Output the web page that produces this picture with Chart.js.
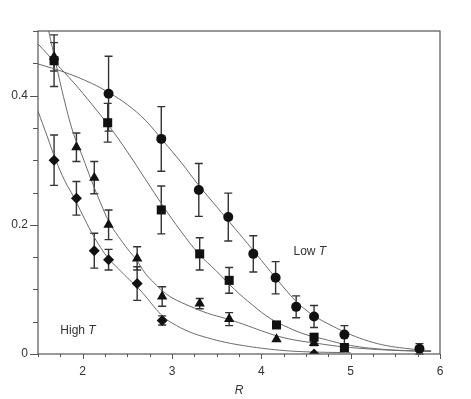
<!DOCTYPE html>
<html lang="en">
  <head>
    <meta charset="UTF-8" />
    <title>R plot</title>
    <script src="https://cdn.jsdelivr.net/npm/chart.js@4.4.0/dist/chart.umd.min.js"></script>
  </head>
  <body style="margin: 0; background: #fff">
    <canvas id="myChart" width="471" height="399"></canvas>
    <script>
      let circleR = [2.29, 2.88, 3.30, 3.63, 3.91, 4.16, 4.39, 4.59, 4.93, 5.77];
      let circleY = [0.403, 0.333, 0.254, 0.212, 0.155, 0.118, 0.073, 0.058, 0.030, 0.008];
      let circleErr = [0.058, 0.050, 0.041, 0.037, 0.028, 0.025, 0.017, 0.017, 0.014, 0.008];

      let squareR = [1.68, 2.28, 2.88, 3.31, 3.64, 4.17, 4.59, 4.93];
      let squareY = [0.454, 0.358, 0.223, 0.155, 0.114, 0.045, 0.026, 0.010];
      let squareErr = [0.040, 0.030, 0.037, 0.025, 0.020, 0, 0, 0];

      let triR = [1.68, 1.93, 2.13, 2.29, 2.61, 2.89, 3.31, 3.64, 4.17, 4.59];
      let triY = [0.460, 0.320, 0.273, 0.200, 0.148, 0.089, 0.078, 0.054, 0.023, 0.017];
      let triErr = [0.022, 0.022, 0.025, 0.023, 0.018, 0.015, 0.008, 0.010, 0, 0.004];

      let diamondR = [1.68, 1.93, 2.13, 2.29, 2.61, 2.89, 4.59];
      let diamondY = [0.300, 0.241, 0.160, 0.146, 0.109, 0.052, 0.0];
      let diamondErr = [0.039, 0.026, 0.027, 0.016, 0.026, 0.007, 0];

      // fitted curves
      let circleFitR = [1.5, 1.8, 2.1, 2.3, 2.5, 2.7, 2.9, 3.1, 3.3, 3.5, 3.7, 3.9, 4.1, 4.3, 4.4, 4.5, 4.6, 4.8, 5.0, 5.2, 5.4, 5.6, 5.8, 5.9];
      let circleFitY = [0.449, 0.436, 0.419, 0.404, 0.386, 0.362, 0.330, 0.297, 0.261, 0.228, 0.195, 0.162, 0.128, 0.095, 0.080, 0.068, 0.058, 0.043, 0.030, 0.020, 0.013, 0.009, 0.006, 0.005];

      let squareFitR = [1.5, 1.7, 1.9, 2.1, 2.3, 2.5, 2.7, 2.9, 3.1, 3.3, 3.5, 3.7, 3.9, 4.1, 4.3, 4.5, 4.7, 4.9, 5.1, 5.3, 5.5, 5.7, 5.9];
      let squareFitY = [0.480, 0.450, 0.420, 0.387, 0.352, 0.313, 0.271, 0.229, 0.190, 0.155, 0.128, 0.100, 0.076, 0.055, 0.041, 0.030, 0.023, 0.016, 0.011, 0.008, 0.006, 0.005, 0.004];

      let triFitR = [1.62, 1.7, 1.8, 1.9, 2.0, 2.1, 2.2, 2.3, 2.4, 2.5, 2.6, 2.7, 2.8, 2.9, 3.0, 3.2, 3.4, 3.6, 3.8, 4.0, 4.2, 4.4, 4.6, 4.8, 5.0, 5.3, 5.6, 5.9];
      let triFitY = [0.500, 0.450, 0.390, 0.340, 0.305, 0.268, 0.234, 0.203, 0.182, 0.163, 0.146, 0.125, 0.110, 0.097, 0.087, 0.074, 0.063, 0.055, 0.046, 0.036, 0.027, 0.021, 0.017, 0.013, 0.010, 0.007, 0.005, 0.004];

      let diamondFitR = [1.5, 1.6, 1.7, 1.8, 1.9, 2.0, 2.1, 2.2, 2.3, 2.4, 2.5, 2.6, 2.7, 2.8, 2.9, 3.0, 3.2, 3.4, 3.6, 3.8, 4.0, 4.2, 4.4, 4.6, 5.0];
      let diamondFitY = [0.376, 0.338, 0.300, 0.268, 0.243, 0.215, 0.188, 0.165, 0.146, 0.132, 0.118, 0.105, 0.090, 0.073, 0.058, 0.048, 0.034, 0.025, 0.018, 0.013, 0.009, 0.006, 0.004, 0.003, 0.002];

      let xTicksMajor = [2, 3, 4, 5, 6];
      let yTicksMajor = [0, 0.2, 0.4];

      function pts(xs, ys) {
        return xs.map((x, i) => ({ x: x, y: ys[i] }));
      }

      function markers(xs, ys, errs, style, r) {
        return {
          type: "scatter",
          data: pts(xs, ys),
          errs: errs,
          pointStyle: style,
          pointRadius: r,
          pointBackgroundColor: "#111",
          pointBorderColor: "#111",
          pointBorderWidth: 0,
          showLine: false,
          clip: 0,
          order: 1,
        };
      }

      function fit(xs, ys) {
        return {
          type: "line",
          data: pts(xs, ys),
          borderColor: "#6a6a6a",
          borderWidth: 1,
          pointRadius: 0,
          tension: 0.4,
          fill: false,
          order: 2,
        };
      }

      let errorBars = {
        id: "errorBars",
        beforeDatasetsDraw(chart) {
          let ctx = chart.ctx;
          let xs = chart.scales.x;
          let ys = chart.scales.y;
          ctx.save();
          ctx.strokeStyle = "#333";
          ctx.lineWidth = 1.4;
          chart.data.datasets.forEach((ds) => {
            if (!ds.errs) return;
            ds.data.forEach((p, i) => {
              let e = ds.errs[i];
              if (!e) return;
              let px = xs.getPixelForValue(p.x);
              let top = ys.getPixelForValue(p.y + e);
              let bot = ys.getPixelForValue(p.y - e);
              ctx.beginPath();
              ctx.moveTo(px, top);
              ctx.lineTo(px, bot);
              ctx.moveTo(px - 4, top);
              ctx.lineTo(px + 4, top);
              ctx.moveTo(px - 4, bot);
              ctx.lineTo(px + 4, bot);
              ctx.stroke();
            });
          });
          ctx.restore();
        },
      };

      let frame = {
        id: "frame",
        afterDraw(chart) {
          let ctx = chart.ctx;
          let a = chart.chartArea;
          let xs = chart.scales.x;
          let ys = chart.scales.y;
          ctx.save();
          ctx.strokeStyle = "#555";
          ctx.lineWidth = 1.2;
          ctx.strokeRect(a.left, a.top, a.right - a.left, a.bottom - a.top);
          ctx.lineWidth = 1;
          ctx.beginPath();
          xs.ticks.forEach((t) => {
            let px = Math.round(xs.getPixelForValue(t.value)) + 0.5;
            let len = xTicksMajor.includes(t.value) ? 5 : 3;
            ctx.moveTo(px, a.bottom);
            ctx.lineTo(px, a.bottom + len);
          });
          ys.ticks.forEach((t) => {
            let py = Math.round(ys.getPixelForValue(t.value)) + 0.5;
            let major = yTicksMajor.some((v) => Math.abs(v - t.value) < 1e-6);
            ctx.moveTo(a.left, py);
            ctx.lineTo(a.left - (major ? 8 : 5), py);
          });
          ctx.stroke();

          // series labels
          ctx.fillStyle = "#333";
          ctx.textBaseline = "middle";
          function label(txt, vx, vy) {
            let px = xs.getPixelForValue(vx);
            let py = ys.getPixelForValue(vy);
            ctx.font = "12px 'Liberation Sans', Arial, sans-serif";
            ctx.fillText(txt, px, py);
            let w = ctx.measureText(txt).width;
            ctx.font = "italic 12px 'Liberation Sans', Arial, sans-serif";
            ctx.fillText("T", px + w, py);
          }
          label("Low ", 4.36, 0.158);
          label("High ", 1.75, 0.036);
          ctx.restore();
        },
      };

      Chart.defaults.font.family = "'Liberation Sans', Arial, sans-serif";
      Chart.defaults.font.size = 12;
      Chart.defaults.color = "#333";

      new Chart("myChart", {
        type: "scatter",
        data: {
          datasets: [
            fit(circleFitR, circleFitY),
            fit(squareFitR, squareFitY),
            fit(triFitR, triFitY),
            fit(diamondFitR, diamondFitY),
            markers(circleR, circleY, circleErr, "circle", 5),
            markers(squareR, squareY, squareErr, "rect", 6.4),
            markers(triR, triY, triErr, "triangle", 6),
            markers(diamondR, diamondY, diamondErr, "rectRot", 5.5),
          ],
        },
        options: {
          responsive: false,
          animation: false,
          layout: { padding: { top: 31, right: 31, left: 0, bottom: 0 } },
          plugins: { legend: { display: false }, tooltip: { enabled: false } },
          scales: {
            x: {
              type: "linear",
              min: 1.5,
              max: 6,
              grid: { display: false, drawTicks: false },
              border: { display: false },
              ticks: {
                stepSize: 0.25,
                autoSkip: false,
                maxRotation: 0,
                padding: 10,
                callback: (v) => (xTicksMajor.includes(v) ? String(v) : ""),
              },
              title: {
                display: true,
                text: "R",
                font: { style: "italic", size: 12 },
                padding: { top: 2, bottom: 1 },
              },
              afterFit: (s) => {
                s.height = 45;
              },
            },
            y: {
              min: 0,
              max: 0.5,
              grid: { display: false, drawTicks: false },
              border: { display: false },
              ticks: {
                stepSize: 0.05,
                autoSkip: false,
                padding: 10,
                callback: (v) => {
                  let m = yTicksMajor.find((t) => Math.abs(t - v) < 1e-6);
                  if (m === undefined) return "";
                  return m === 0 ? "0" : m.toFixed(1);
                },
              },
              afterFit: (s) => {
                s.width = 38;
              },
            },
          },
        },
        plugins: [errorBars, frame],
      });
    </script>
  </body>
</html>
